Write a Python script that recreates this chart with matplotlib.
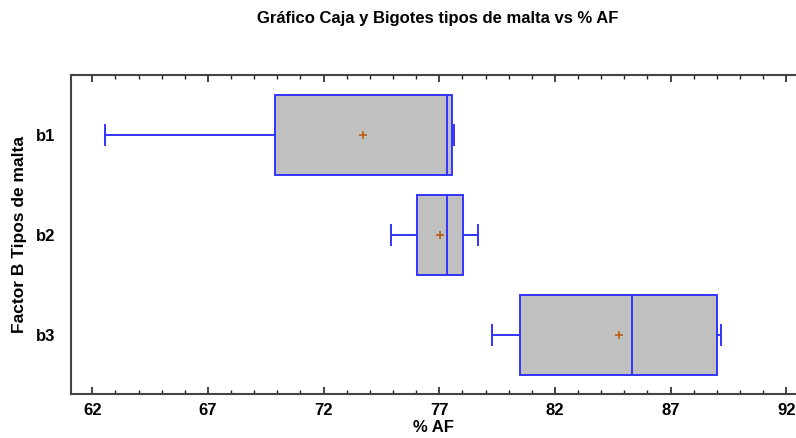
import matplotlib.pyplot as plt
from matplotlib.ticker import MultipleLocator

plt.rcParams['font.family'] = ['Liberation Sans', 'DejaVu Sans']

# box statistics (% AF)
groups = ['b1', 'b2', 'b3']
whis_lo = [62.55, 74.93, 79.27]
q1 = [69.90, 76.05, 80.50]
median = [77.34, 77.32, 85.33]
q3 = [77.54, 78.01, 88.99]
whis_hi = [77.63, 78.69, 89.18]
mean = [73.71, 77.03, 84.78]

stats = []
for i, g in enumerate(groups):
    stats.append({'label': g, 'whislo': whis_lo[i], 'q1': q1[i], 'med': median[i],
                  'q3': q3[i], 'whishi': whis_hi[i], 'mean': mean[i], 'fliers': []})

fig = plt.figure(figsize=(7.96, 4.38), dpi=100)
ax = fig.add_axes([0.0892, 0.0998, 0.9108, 0.729])

blue = '#3333ff'
ax.bxp(stats, positions=[1, 2, 3], vert=False, widths=0.8, capwidths=0.2,
       patch_artist=True, showmeans=True, showcaps=True,
       boxprops=dict(facecolor='#c0c0c0', edgecolor=blue, linewidth=1.4),
       medianprops=dict(color=blue, linewidth=1.4),
       whiskerprops=dict(color=blue, linewidth=1.4),
       capprops=dict(color=blue, linewidth=1.4),
       meanprops=dict(marker='+', markeredgecolor='#b5651d', markersize=5.5, markeredgewidth=1.3))

ax.set_xlim(61.08, 92.42)
ax.set_ylim(3.59, 0.4)
ax.set_yticks([1, 2, 3])
ax.set_yticklabels(groups)

ax.xaxis.set_major_locator(MultipleLocator(5))
ax.xaxis.set_minor_locator(MultipleLocator(1))
ax.set_xticks([62, 67, 72, 77, 82, 87, 92])
ax.tick_params(axis='x', which='both', direction='in', top=True, bottom=True,
               color='#222222', labelsize=12, pad=6)
ax.tick_params(axis='x', which='major', length=5, width=1.2)
ax.tick_params(axis='x', which='minor', length=3, width=1.0)
ax.tick_params(axis='y', length=0, labelsize=12, pad=11)
for lab in ax.get_xticklabels() + ax.get_yticklabels():
    lab.set_fontweight('bold')

for s in ['left', 'top', 'bottom']:
    ax.spines[s].set_color('#444444')
    ax.spines[s].set_linewidth(1.5)
ax.spines['right'].set_visible(False)

ax.set_xlabel('% AF', fontsize=12, fontweight='bold', labelpad=2)
ax.set_ylabel('Factor B Tipos de malta', fontsize=12.5, fontweight='bold', labelpad=7)
fig.text(438 / 796, 1 - 19 / 438, 'Gráfico Caja y Bigotes tipos de malta vs % AF',
         ha='center', va='center', fontsize=12, fontweight='bold')

fig.savefig('out.png', dpi=100)
